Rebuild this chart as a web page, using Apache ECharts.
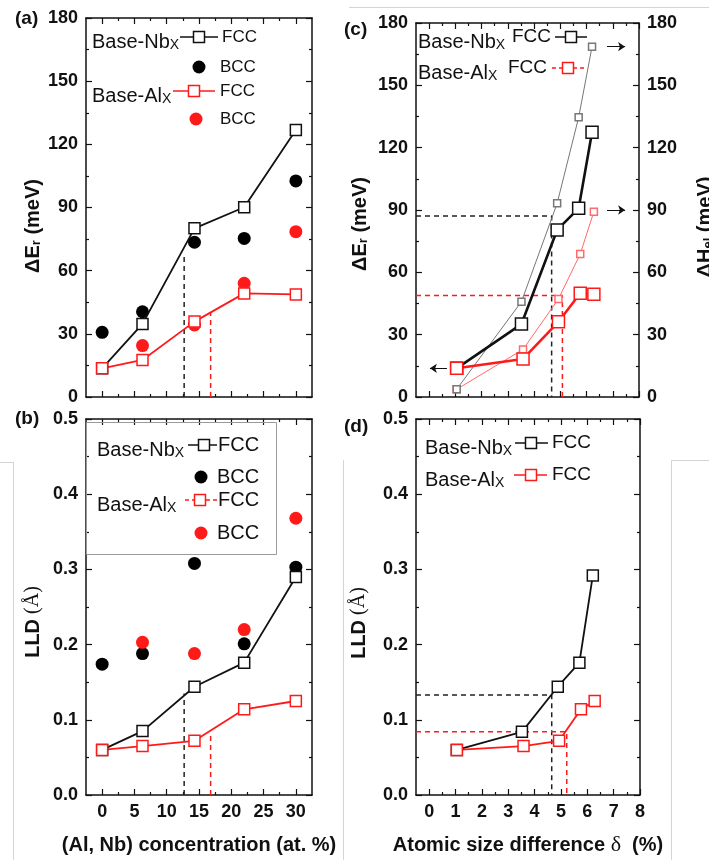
<!DOCTYPE html>
<html><head><meta charset="utf-8">
<script src="https://cdn.jsdelivr.net/npm/echarts@6/dist/echarts.min.js"></script>
<style>html,body{margin:0;padding:0;background:#fff;} #c{width:709px;height:860px;}</style>
</head><body><div id="c"></div>
<script>
// ---------------- data ----------------
const concX     = [0, 6.25, 14.3, 22, 30];            // (Al, Nb) concentration (at.%)
const nbFccEr   = [13.6, 34.7, 80.1, 90.1, 126.8];    // panel a, Base-Nb FCC  dEr (meV)
const nbBccEr   = [30.7, 40.5, 73.5, 75.3, 102.6];    // panel a, Base-Nb BCC
const alFccEr   = [13.6, 17.6, 35.8, 49.2, 48.7];     // panel a, Base-Al FCC
const alBccEr   = [null, 24.4, 34.2, 54.0, 78.5];     // panel a, Base-Al BCC
const nbFccLLD  = [0.060, 0.085, 0.144, 0.176, 0.290];// panel b
const nbBccLLD  = [0.174, 0.188, 0.308, 0.201, 0.303];
const alFccLLD  = [0.060, 0.065, 0.072, 0.114, 0.125];
const alBccLLD  = [null, 0.203, 0.188, 0.220, 0.368];
const deltaNb   = [1.05, 3.52, 4.88, 5.70, 6.21];     // atomic size difference (%)
const deltaAl   = [1.05, 3.58, 4.93, 5.76, 6.28];
const nbEr      = [13.8, 35.1, 80.4, 90.8, 127.4];    // panel c, dEr (left axis)
const alEr      = [13.8, 18.3, 36.2, 49.9, 49.4];
const nbHel     = [3.7, 45.9, 93.2, 134.6, 168.6];    // panel c, dH_el (right axis)
const alHel     = [3.7, 22.9, 47.2, 68.8, 89.2];
const nbLLD     = [0.060, 0.084, 0.144, 0.176, 0.292];// panel d
const alLLD     = [0.060, 0.065, 0.072, 0.114, 0.125];
// guide (dashed) lines
const guideConc   = [12.7, 16.8];      // Nb, Al critical concentrations
const guideErTop  = [68, 40];
const guideLLDTop = [0.135, 0.080];
const guideDeltaC = [4.67, 5.08];
const guideErLvl  = [87.1, 48.9];
const guideDeltaD = [4.65, 5.22];
const guideLLDLvl = [0.133, 0.084];
// arrows in panel c  [x from, x to, y]
const arrowLeft   = [0.68, 0.03, 13.8];
const arrowsRight = [[6.78, 7.47, 168.6], [6.78, 7.47, 90.0]];
// ticks
const concTicks  = [0, 5, 10, 15, 20, 25, 30];
const concMinor  = [2.5, 7.5, 12.5, 17.5, 22.5, 27.5];
const deltaTicks = [0, 1, 2, 3, 4, 5, 6, 7, 8];
const deltaMinor = [0.5, 1.5, 2.5, 3.5, 4.5, 5.5, 6.5, 7.5];
const erTicks    = [0, 30, 60, 90, 120, 150, 180];
const erMinor    = [15, 45, 75, 105, 135, 165];
const lldTicks   = [0, 0.1, 0.2, 0.3, 0.4, 0.5];
const lldMinor   = [0.05, 0.15, 0.25, 0.35, 0.45];

// ---------------- helpers ----------------
const FONT = '"Liberation Sans", Arial, sans-serif';
const SERIF = '"Liberation Serif", "DejaVu Serif", serif';
const INK = '#111';
const RED = '#ff1a1a';
const xAxes = [], yAxes = [];
const LABEL = {color: INK, fontFamily: FONT, fontWeight: 'bold', fontSize: 18, margin: 8};

function addAxis(list, grid, pos, min, max, majors, minors, fmt) {
  const idx = list.length;
  const base = {type: 'value', gridIndex: grid, position: pos, min: min, max: max,
    splitLine: {show: false}, offset: 0};
  list.push(Object.assign({}, base, {
    axisLine: {show: true, onZero: false, lineStyle: {color: INK, width: 1.5}},
    axisTick: {show: true, inside: true, length: 6, customValues: majors, lineStyle: {color: INK, width: 1.2}},
    axisLabel: fmt ? Object.assign({show: true, customValues: majors, formatter: fmt}, LABEL) : {show: false}
  }));
  list.push(Object.assign({}, base, {
    axisLine: {show: false, onZero: false},
    axisTick: {show: true, inside: true, length: 3, customValues: minors, lineStyle: {color: INK, width: 1.2}},
    axisLabel: {show: false}
  }));
  return idx;
}
const fInt = v => String(Math.round(v));
const fOne = v => v.toFixed(1);

const grids = [
  {left: 86, top: 18, width: 226, height: 379},
  {left: 86, top: 419, width: 226, height: 376},
  {left: 416, top: 23, width: 223, height: 374},
  {left: 416, top: 419, width: 224, height: 376}
];
// panel a
const ax = addAxis(xAxes, 0, 'bottom', -2.5, 32.5, concTicks, concMinor, null);
addAxis(xAxes, 0, 'top', -2.5, 32.5, concTicks, concMinor, null);
const ay = addAxis(yAxes, 0, 'left', 0, 180, erTicks, erMinor, fInt);
addAxis(yAxes, 0, 'right', 0, 180, erTicks, erMinor, null);
// panel b
const bx = addAxis(xAxes, 1, 'bottom', -2.5, 32.5, concTicks, concMinor, fInt);
addAxis(xAxes, 1, 'top', -2.5, 32.5, concTicks, concMinor, null);
const by = addAxis(yAxes, 1, 'left', 0, 0.5, lldTicks, lldMinor, fOne);
addAxis(yAxes, 1, 'right', 0, 0.5, lldTicks, lldMinor, null);
// panel c
const cx = addAxis(xAxes, 2, 'bottom', -0.5, 8, deltaTicks, deltaMinor, null);
addAxis(xAxes, 2, 'top', -0.5, 8, deltaTicks, deltaMinor, null);
const cy = addAxis(yAxes, 2, 'left', 0, 180, erTicks, erMinor, fInt);
const cyr = addAxis(yAxes, 2, 'right', 0, 180, erTicks, erMinor, fInt);
// panel d
const dx = addAxis(xAxes, 3, 'bottom', -0.5, 8, deltaTicks, deltaMinor, fInt);
addAxis(xAxes, 3, 'top', -0.5, 8, deltaTicks, deltaMinor, null);
const dy = addAxis(yAxes, 3, 'left', 0, 0.5, lldTicks, lldMinor, fOne);
addAxis(yAxes, 3, 'right', 0, 0.5, lldTicks, lldMinor, null);

function pts(xs, ys) { return xs.map((x, i) => ys[i] == null ? null : [x, ys[i]]).filter(p => p); }

const series = [];
function dots(xi, yi, xs, ys, color) {
  series.push({type: 'scatter', xAxisIndex: xi, yAxisIndex: yi, data: pts(xs, ys),
    symbol: 'circle', symbolSize: 13, itemStyle: {color: color, opacity: 1}, z: 3, silent: true});
}
function fcc(xi, yi, xs, ys, color, lw, size, z) {
  series.push({type: 'line', xAxisIndex: xi, yAxisIndex: yi, data: pts(xs, ys),
    symbol: 'rect', symbolSize: size, showAllSymbol: true,
    lineStyle: {color: color, width: lw},
    itemStyle: {color: '#fff', borderColor: color, borderWidth: 1.5},
    z: z || 4, silent: true});
}
function dashed(xi, yi, data, color) {
  series.push({type: 'line', xAxisIndex: xi, yAxisIndex: yi, data: data, symbol: 'none',
    lineStyle: {color: color, width: 1.5, type: [5, 4]}, z: 2, silent: true});
}

// panel a
dots(ax, ay, concX, nbBccEr, '#000');
dots(ax, ay, concX, alBccEr, RED);
dashed(ax, ay, [[guideConc[0], 0], [guideConc[0], guideErTop[0]]], '#222');
dashed(ax, ay, [[guideConc[1], 0], [guideConc[1], guideErTop[1]]], RED);
fcc(ax, ay, concX, nbFccEr, INK, 1.8, 11);
fcc(ax, ay, concX, alFccEr, RED, 1.8, 11);
// panel b
dots(bx, by, concX, nbBccLLD, '#000');
dots(bx, by, concX, alBccLLD, RED);
dashed(bx, by, [[guideConc[0], 0], [guideConc[0], guideLLDTop[0]]], '#222');
dashed(bx, by, [[guideConc[1], 0], [guideConc[1], guideLLDTop[1]]], RED);
fcc(bx, by, concX, nbFccLLD, INK, 1.8, 11);
fcc(bx, by, concX, alFccLLD, RED, 1.8, 11);
// panel c
dashed(cx, cy, [[-0.5, guideErLvl[0]], [guideDeltaC[0], guideErLvl[0]], [guideDeltaC[0], 0]], '#222');
dashed(cx, cy, [[-0.5, guideErLvl[1]], [guideDeltaC[1], guideErLvl[1]], [guideDeltaC[1], 0]], RED);
fcc(cx, cyr, deltaAl, alHel, '#ff6a6a', 1, 7, 3);
fcc(cx, cyr, deltaNb, nbHel, '#777', 1, 7, 3);
fcc(cx, cy, deltaNb, nbEr, INK, 2.6, 12, 5);
fcc(cx, cy, deltaAl, alEr, RED, 2.6, 12, 5);
series.push({type: 'line', xAxisIndex: cx, yAxisIndex: cy, data: [], silent: true,
  markLine: {silent: true, symbol: ['none', 'arrow'], symbolSize: 7, label: {show: false},
    lineStyle: {color: INK, width: 1, type: 'solid'}, animation: false,
    data: [[{coord: [arrowLeft[0], arrowLeft[2]]}, {coord: [arrowLeft[1], arrowLeft[2]]}]]
      .concat(arrowsRight.map(a => [{coord: [a[0], a[2]]}, {coord: [a[1], a[2]]}]))}});
// panel d
dashed(dx, dy, [[-0.5, guideLLDLvl[0]], [guideDeltaD[0], guideLLDLvl[0]], [guideDeltaD[0], 0]], '#222');
dashed(dx, dy, [[-0.5, guideLLDLvl[1]], [guideDeltaD[1], guideLLDLvl[1]], [guideDeltaD[1], 0]], RED);
fcc(dx, dy, deltaNb, nbLLD, INK, 1.8, 11);
fcc(dx, dy, deltaAl, alLLD, RED, 1.8, 11);

// ---------------- text & legends (graphic) ----------------
const G = [];
function subRich(size) {
  return {
    m: {fontFamily: FONT, fontSize: size, lineHeight: size + 10, fill: INK, verticalAlign: 'bottom'},
    s: {fontFamily: FONT, fontSize: Math.round(size * 0.68), lineHeight: Math.round(size * 0.68), fill: INK, verticalAlign: 'bottom'}
  };
}
function label(x, y, baseText, sub, size) {
  G.push({type: 'text', x: x, y: y, z: 20, style: {text: '{m|' + baseText + '}{s|' + sub + '}',
    rich: subRich(size), verticalAlign: 'middle', align: 'left'}});
}
function txt(x, y, s, size, weight, align, font) {
  G.push({type: 'text', x: x, y: y, z: 20, style: {text: s, fill: INK,
    font: (weight || 'normal') + ' ' + size + 'px ' + (font || FONT), verticalAlign: 'middle', align: align || 'left'}});
}
function legLine(x1, x2, y, sq, color, dash, s) {
  G.push({type: 'line', z: 20, shape: {x1: x1, y1: y, x2: x2, y2: y}, style: {stroke: color, lineWidth: 1.5, lineDash: dash ? [4, 3] : null}});
  G.push({type: 'rect', z: 21, shape: {x: sq - s / 2, y: y - s / 2, width: s, height: s}, style: {fill: '#fff', stroke: color, lineWidth: 1.5}});
}
function legDot(x, y, color) { G.push({type: 'circle', z: 20, shape: {cx: x, cy: y, r: 6.5}, style: {fill: color}}); }
function vtitle(x, y, rich, text) {
  G.push({type: 'text', x: x, y: y, rotation: Math.PI / 2, z: 20,
    style: {text: text, rich: rich, align: 'center', verticalAlign: 'middle'}});
}
function faint(x1, y1, x2, y2) { G.push({type: 'line', z: 0, shape: {x1, y1, x2, y2}, style: {stroke: '#d4d4d4', lineWidth: 1}}); }

// screenshot frame artifacts
faint(349, 7.5, 709, 7.5);
faint(0, 462.5, 13.5, 462.5); faint(13.5, 462, 13.5, 860);
faint(343.5, 460, 343.5, 860);
faint(671.5, 460.5, 709, 460.5); faint(671.5, 460, 671.5, 860);

// panel letters
txt(15, 19, '(a)', 19, 'bold');
txt(15, 419, '(b)', 19, 'bold');
txt(344, 30, '(c)', 19, 'bold');
txt(344, 427, '(d)', 19, 'bold');

// axis titles
const erRich = {
  b: {fontFamily: FONT, fontWeight: 'bold', fontSize: 20, lineHeight: 30, fill: INK, verticalAlign: 'bottom'},
  s: {fontFamily: FONT, fontWeight: 'bold', fontSize: 13, lineHeight: 13, fill: INK, verticalAlign: 'bottom'}
};
const lldRich = {
  b: {fontFamily: FONT, fontWeight: 'bold', fontSize: 20, fill: INK},
  n: {fontFamily: SERIF, fontSize: 20, fill: INK}
};
vtitle(28, 226, erRich, '{b|ΔE}{s|r}{b| (meV)}');
vtitle(33, 622, lldRich, '{b|LLD}{n| (Å)}');
vtitle(355, 224, erRich, '{b|ΔE}{s|r}{b| (meV)}');
vtitle(700, 227, erRich, '{b|ΔH}{s|el}{b| (meV)}');
vtitle(359, 623, lldRich, '{b|LLD}{n| (Å)}');
G.push({type: 'text', x: 199, y: 845, z: 20, style: {text: '(Al, Nb) concentration (at. %)', fill: INK,
  font: 'bold 20px ' + FONT, align: 'center', verticalAlign: 'middle'}});
G.push({type: 'text', x: 528, y: 845, z: 20, style: {text: '{b|Atomic size difference }{g|δ}{b|  (%)}', align: 'center', verticalAlign: 'middle',
  rich: {b: {fontFamily: FONT, fontWeight: 'bold', fontSize: 20, fill: INK}, g: {fontFamily: SERIF, fontSize: 22, fill: INK}}}});

// legend a
label(92, 37, 'Base-Nb', 'X', 20);
legLine(180, 218, 37, 199, INK, false, 11);
txt(222, 37, 'FCC', 17);
legDot(199, 67, '#000'); txt(220, 67, 'BCC', 17);
label(92, 91, 'Base-Al', 'X', 20);
legLine(173, 215, 91, 194, RED, false, 11);
txt(220, 91, 'FCC', 17);
legDot(196, 119, RED); txt(220, 119, 'BCC', 17);
// legend b
G.push({type: 'rect', z: 19, shape: {x: 86.5, y: 422.5, width: 190, height: 132}, style: {fill: 'none', stroke: '#9a9a9a', lineWidth: 1}});
label(97, 445, 'Base-Nb', 'X', 20);
legLine(188, 217, 445, 204, INK, false, 11);
txt(218, 445, 'FCC', 20);
legDot(201, 477, '#000'); txt(217, 477, 'BCC', 20);
label(97, 500, 'Base-Al', 'X', 20);
legLine(185, 217, 500, 200, RED, true, 11);
txt(218, 500, 'FCC', 20);
legDot(201, 533, RED); txt(217, 533, 'BCC', 20);
// legend c
label(418, 37, 'Base-Nb', 'X', 20);
txt(512, 37, 'FCC', 19);
legLine(555, 587, 37, 571, INK, false, 11);
label(418, 68, 'Base-Al', 'X', 20);
txt(508, 68, 'FCC', 19);
legLine(552, 587, 68, 568, RED, true, 11);
// legend d
label(425, 443, 'Base-Nb', 'X', 20);
legLine(515, 548, 443, 531, INK, false, 11);
txt(552, 443, 'FCC', 19);
label(425, 475, 'Base-Al', 'X', 20);
legLine(514, 547, 475, 531, RED, false, 11);
txt(552, 475, 'FCC', 19);

const chart = echarts.init(document.getElementById('c'), null, {renderer: 'canvas'});
chart.setOption({
  backgroundColor: '#fff',
  animation: false,
  grid: grids,
  xAxis: xAxes,
  yAxis: yAxes,
  series: series,
  graphic: {elements: G}
});
</script></body></html>
